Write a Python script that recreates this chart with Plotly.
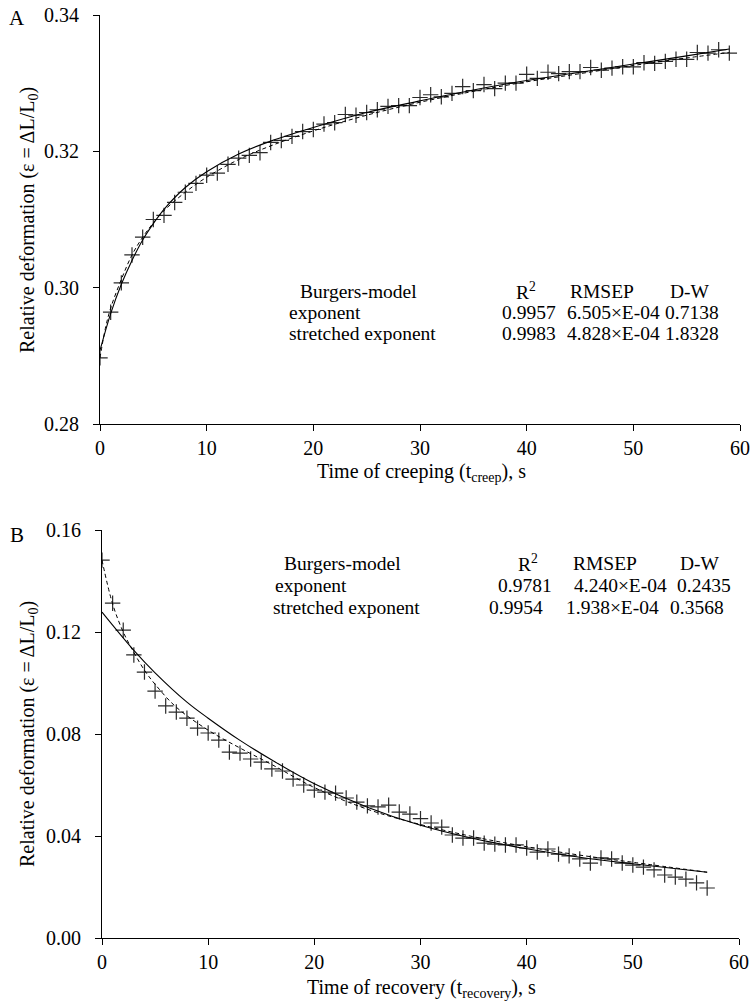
import plotly.graph_objects as go

W, H = 756, 1002

# ---------------- data: panel A (creep) ----------------
t_creep = list(range(0, 60))
eps_creep = [0.2897, 0.2964, 0.3007, 0.3048, 0.3074, 0.3100, 0.3106, 0.3125, 0.3140, 0.3153,
             0.3165, 0.3168, 0.3181, 0.3190, 0.3194, 0.3198, 0.3213, 0.3216, 0.3222, 0.3229,
             0.3232, 0.3240, 0.3242, 0.3254, 0.3253, 0.3257, 0.3261, 0.3266, 0.3267, 0.3267,
             0.3279, 0.3283, 0.3280, 0.3285, 0.3295, 0.3289, 0.3298, 0.3292, 0.3300, 0.3300,
             0.3313, 0.3307, 0.3316, 0.3314, 0.3317, 0.3317, 0.3323, 0.3319, 0.3322, 0.3324,
             0.3324, 0.3330, 0.3329, 0.3332, 0.3335, 0.3335, 0.3345, 0.3344, 0.3349, 0.3344]
# fitted curves
tA_exp = [0, 1, 2, 3, 4, 5, 6, 8, 10, 13, 16, 20, 25, 30, 35, 40, 45, 50, 55, 59]
A_exp = [0.2908, 0.2962, 0.3005, 0.3040, 0.3070, 0.3094, 0.3115, 0.3147, 0.3170, 0.3196,
         0.3215, 0.3235, 0.3257, 0.3274, 0.3290, 0.3304, 0.3316, 0.3328, 0.3340, 0.3350]
tA_str = [0, 0.5, 1, 2, 3, 4, 5, 6, 8, 10, 13, 16, 20, 25, 30, 35, 40, 45, 50, 55, 59]
A_str = [0.2897, 0.2940, 0.2970, 0.3012, 0.3048, 0.3074, 0.3095, 0.3113, 0.3140, 0.3162,
         0.3188, 0.3208, 0.3230, 0.3253, 0.3272, 0.3288, 0.3302, 0.3314, 0.3326, 0.3337, 0.3345]

# ---------------- data: panel B (recovery) ----------------
t_rec = list(range(0, 58))
eps_rec = [0.1482, 0.1313, 0.1207, 0.1110, 0.1043, 0.0968, 0.0910, 0.0886, 0.0862, 0.0823,
           0.0804, 0.0776, 0.0729, 0.0725, 0.0702, 0.0690, 0.0663, 0.0655, 0.0623, 0.0600,
           0.0580, 0.0572, 0.0568, 0.0549, 0.0533, 0.0518, 0.0514, 0.0521, 0.0494, 0.0486,
           0.0468, 0.0451, 0.0435, 0.0404, 0.0392, 0.0392, 0.0372, 0.0368, 0.0365, 0.0365,
           0.0353, 0.0337, 0.0349, 0.0329, 0.0322, 0.0310, 0.0294, 0.0314, 0.0310, 0.0294,
           0.0286, 0.0278, 0.0267, 0.0247, 0.0239, 0.0231, 0.0216, 0.0196]
tB_exp = [0, 3, 5, 8, 10, 13, 16, 20, 25, 30, 35, 40, 45, 50, 57]
B_exp = [0.1278, 0.1128, 0.1040, 0.0925, 0.0862, 0.0775, 0.0698, 0.0605, 0.0513, 0.0442,
         0.0390, 0.0350, 0.0317, 0.0291, 0.0258]
tB_str = [0, 1, 2, 3, 4, 5, 7, 10, 13, 16, 20, 25, 30, 35, 40, 45, 50, 57]
B_str = [0.1482, 0.1310, 0.1200, 0.1120, 0.1050, 0.0995, 0.0905, 0.0815, 0.0745, 0.0680,
         0.0590, 0.0505, 0.0445, 0.0397, 0.0358, 0.0325, 0.0297, 0.0258]

# ---------------- table texts ----------------
tab_header = ["Burgers-model", "R<sup>2</sup>", "RMSEP", "D-W"]
tabA_rows = [["exponent", "0.9957", "6.505×E-04", "0.7138"],
             ["stretched exponent", "0.9983", "4.828×E-04", "1.8328"]]
tabB_rows = [["exponent", "0.9781", "4.240×E-04", "0.2435"],
             ["stretched exponent", "0.9954", "1.938×E-04", "0.3568"]]

FONT = "Liberation Serif"
FS_TAB = 19.5
FS_TITLE = 20

def px(x):
    return x / W

def py(y):
    return 1 - y / H

fig = go.Figure()

marker_style = dict(symbol="cross-thin", size=11, color="#2a2a2a",
                    line=dict(width=1.2, color="#2a2a2a"))

fig.add_trace(go.Scatter(x=t_creep, y=eps_creep, mode="markers", marker=marker_style,
                         xaxis="x", yaxis="y", showlegend=False))
fig.add_trace(go.Scatter(x=tA_exp, y=A_exp, mode="lines",
                         line=dict(color="black", width=1.1, shape="spline"),
                         xaxis="x", yaxis="y", showlegend=False))
fig.add_trace(go.Scatter(x=tA_str, y=A_str, mode="lines",
                         line=dict(color="black", width=1.0, dash="4px,3px", shape="spline"),
                         xaxis="x", yaxis="y", showlegend=False))

fig.add_trace(go.Scatter(x=t_rec, y=eps_rec, mode="markers", marker=marker_style,
                         xaxis="x2", yaxis="y2", showlegend=False))
fig.add_trace(go.Scatter(x=tB_exp, y=B_exp, mode="lines",
                         line=dict(color="black", width=1.1, shape="spline"),
                         xaxis="x2", yaxis="y2", showlegend=False))
fig.add_trace(go.Scatter(x=tB_str, y=B_str, mode="lines",
                         line=dict(color="black", width=1.0, dash="4px,3px", shape="spline"),
                         xaxis="x2", yaxis="y2", showlegend=False))

axis_common = dict(showline=True, linecolor="black", linewidth=1.2, ticks="outside",
                   ticklen=6, tickwidth=1.2, tickcolor="black", showgrid=False,
                   zeroline=False, automargin=False,
                   tickfont=dict(family=FONT, size=20, color="black"))

fig.update_layout(
    width=W, height=H, autosize=False,
    margin=dict(l=0, r=0, t=0, b=0),
    paper_bgcolor="white", plot_bgcolor="white",
    xaxis=dict(domain=[px(100), px(740)], range=[0, 60], tickvals=[0, 10, 20, 30, 40, 50, 60],
               anchor="y", **axis_common),
    yaxis=dict(domain=[py(424), py(15)], range=[0.28, 0.34], tickvals=[0.28, 0.30, 0.32, 0.34],
               tickformat=".2f", anchor="x", ticklabelstandoff=10, **axis_common),
    xaxis2=dict(domain=[px(102), px(739)], range=[0, 60], tickvals=[0, 10, 20, 30, 40, 50, 60],
                anchor="y2", **axis_common),
    yaxis2=dict(domain=[py(938), py(530)], range=[0, 0.16],
                tickvals=[0.00, 0.04, 0.08, 0.12, 0.16], tickformat=".2f", anchor="x2",
                ticklabelstandoff=10, **axis_common),
)

def ann(text, x, y, xanchor="center", size=FS_TAB, angle=0):
    fig.add_annotation(text=text, x=px(x), y=py(y), xref="paper", yref="paper",
                       xanchor=xanchor, yanchor="middle", showarrow=False, textangle=angle,
                       font=dict(family=FONT, size=size, color="black"))

# panel letters
ann("A", 17, 18, size=21)
ann("B", 17, 535, size=21)

# axis titles
ann("Relative deformation (ε = ΔL/L<sub>0</sub>)", 28, 220, size=FS_TITLE, angle=-90)
ann("Relative deformation (ε = ΔL/L<sub>0</sub>)", 28, 734, size=FS_TITLE, angle=-90)
ann("Time of creeping (t<sub>creep</sub>), s", 421, 472, size=FS_TITLE)
ann("Time of recovery (t<sub>recovery</sub>), s", 421, 988, size=FS_TITLE)

# table A
ann(tab_header[0], 298, 291, xanchor="left")
ann(tab_header[1], 526, 291)
ann(tab_header[2], 602, 291)
ann(tab_header[3], 690, 291)
for i, row in enumerate(tabA_rows):
    yy = 312 + 21 * i
    ann(row[0], 287, yy, xanchor="left")
    ann(row[1], 529, yy)
    ann(row[2], 613, yy)
    ann(row[3], 692, yy)

# table B
ann(tab_header[0], 282, 563, xanchor="left")
ann(tab_header[1], 528, 563)
ann(tab_header[2], 605, 563)
ann(tab_header[3], 700, 563)
rowB_x = [(273, 525, 620, 704), (271, 516, 612, 697)]
for i, row in enumerate(tabB_rows):
    yy = 585 + 22 * i
    xs = rowB_x[i]
    ann(row[0], xs[0], yy, xanchor="left")
    ann(row[1], xs[1], yy)
    ann(row[2], xs[2], yy)
    ann(row[3], xs[3], yy)

fig.write_html("out.html", config={"displayModeBar": False},
               post_script="document.body.style.margin='0px';")
